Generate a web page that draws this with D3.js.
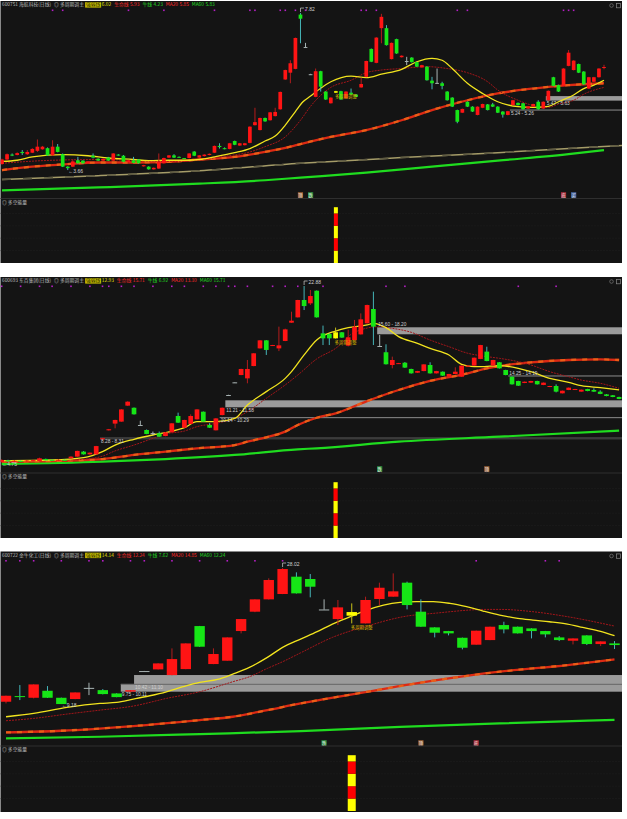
<!DOCTYPE html>
<html><head><meta charset="utf-8">
<script src="https://cdn.jsdelivr.net/npm/d3@7/dist/d3.min.js"></script>
<style>body{margin:0;background:#fff;}svg{display:block;}</style>
</head><body>
<script>
// ================= DATA =================
const headerNames = ['强弱线','生命线','牛线','MA20','MA60'];
const energyLevels = [0,20,40,60,80,90];

// ---- Panel 1 : 600751 ----
const p1Title = '600751 海航科技(日线)';
const p1HeaderVals = ['6.02','5.93','4.23','5.85','5.83'];
const p1Candles = [
[3.82,3.96,3.80,3.94],[3.94,4.10,3.92,4.08],[4.07,4.10,4.03,4.05],[4.06,4.13,4.05,4.11],[4.14,4.19,4.06,4.11],
[4.08,4.19,4.06,4.14],[4.12,4.24,4.11,4.22],[4.17,4.47,4.14,4.28],[4.21,4.30,4.20,4.28],[4.24,4.26,4.04,4.05],
[4.05,4.45,4.04,4.28],[4.28,4.35,4.13,4.14],[4.08,4.10,3.74,3.75],[3.75,3.76,3.66,3.71],[3.75,3.94,3.74,3.89],
[3.92,4.01,3.83,3.84],[3.91,3.92,3.83,3.84],[3.84,3.90,3.83,3.89],[4.04,4.10,3.97,3.99],[3.96,3.97,3.90,3.91],
[3.91,3.97,3.90,3.96],[3.99,4.01,3.90,3.91],[3.91,4.11,3.90,4.10],[4.07,4.08,4.04,4.05],[4.04,4.06,3.87,3.88],
[3.87,3.93,3.86,3.92],[3.92,4.01,3.84,3.85],[3.94,3.95,3.83,3.84],[3.76,3.80,3.75,3.79],[3.75,3.76,3.67,3.68],
[3.68,3.73,3.67,3.72],[3.70,4.10,3.69,3.88],[3.84,3.99,3.83,3.98],[3.99,4.06,3.98,4.05],[4.05,4.08,3.98,3.99],
[4.01,4.02,3.98,3.99],[3.98,3.98,3.95,3.96],[3.98,4.11,3.97,4.10],[4.15,4.16,4.03,4.04],[3.99,4.06,3.98,4.05],
[4.03,4.08,4.02,4.07],[4.06,4.10,4.05,4.09],[4.12,4.31,4.11,4.30],[4.30,4.37,4.23,4.27],[4.24,4.26,4.21,4.22],
[4.22,4.38,4.21,4.37],[4.43,4.44,4.32,4.33],[4.31,4.38,4.30,4.37],[4.32,4.38,4.31,4.37],[4.38,4.82,4.37,4.81],
[4.85,5.31,4.84,4.93],[4.72,5.05,4.71,5.04],[5.04,5.05,4.94,4.95],[4.98,5.20,4.97,5.19],[5.09,5.31,5.08,5.20],
[5.27,5.74,5.26,5.73],[6.06,6.32,6.05,6.31],[6.24,6.57,5.96,6.49],[6.34,7.17,6.33,7.16],[7.78,7.82,7.02,7.67],
[6.92,7.03,6.92,6.92],[6.20,6.21,6.19,6.20],[5.60,6.35,5.59,6.28],[6.28,6.29,5.74,5.87],[5.74,5.75,5.52,5.53],
[5.43,5.59,5.42,5.58],[5.71,5.76,5.70,5.75],[5.75,5.76,5.52,5.53],[5.56,5.75,5.55,5.74],[5.71,5.82,5.65,5.66],
[5.66,5.67,5.59,5.60],[5.85,6.11,5.84,5.94],[6.13,6.56,6.12,6.55],[6.87,6.88,6.52,6.53],[6.50,7.18,6.49,7.17],
[7.42,7.80,7.02,7.72],[7.42,7.50,6.96,6.97],[6.60,7.04,6.59,7.03],[7.13,7.14,6.74,6.75],[6.65,6.70,6.64,6.69],
[6.55,6.66,6.44,6.55],[6.64,6.65,6.51,6.52],[6.52,6.53,6.39,6.40],[6.38,6.45,6.37,6.44],[6.40,6.41,6.03,6.04],
[6.03,6.13,5.80,5.96],[5.97,6.35,5.96,5.97],[5.96,6.00,5.80,5.89],[5.74,5.75,5.50,5.51],[5.58,5.59,5.33,5.34],
[5.25,5.26,4.90,4.94],[5.18,5.29,5.17,5.28],[5.47,5.48,5.33,5.34],[5.34,5.35,5.20,5.21],[5.12,5.35,5.11,5.34],
[5.31,5.42,5.30,5.41],[5.40,5.41,5.24,5.25],[5.40,5.44,5.33,5.34],[5.34,5.35,5.17,5.18],[5.21,5.22,5.05,5.13],
[5.12,5.23,5.11,5.22],[5.38,5.52,5.37,5.51],[5.44,5.45,5.37,5.38],[5.43,5.44,5.26,5.27],[5.29,5.36,5.28,5.35],
[5.34,5.42,5.33,5.41],[5.47,5.51,5.26,5.27],[5.29,5.48,5.28,5.47],[5.51,5.77,5.50,5.76],[6.12,6.13,5.88,5.89],
[5.91,5.92,5.73,5.74],[5.89,6.36,5.88,6.35],[6.42,6.84,6.41,6.77],[6.31,6.57,6.30,6.56],[6.47,6.48,6.23,6.24],
[6.27,6.28,5.92,5.93],[5.82,6.13,5.81,6.12],[6.00,6.13,5.99,6.12],[6.12,6.36,6.11,6.35],[6.37,6.45,6.33,6.39]
];
const p1SignalBar = 66;
const p1Strong = [[0,3.89],[3,3.92],[6,4.01],[12,4.07],[17,4.04],[21,3.98],[26,3.94],[29,3.91],[33,3.92],[37,3.92],[39,3.94],[42,4.01],[46,4.12],[49,4.23],[52,4.43],[54,4.56],[56,4.85],[58,5.21],[59.5,5.47],[61,5.62],[63,5.83],[65,6.00],[69,6.15],[72,6.11],[75,6.20],[79,6.33],[82,6.53],[85,6.62],[87,6.57],[89,6.35],[92,5.96],[95,5.69],[98,5.47],[102,5.34],[105,5.32],[108,5.35],[110,5.47],[113,5.65],[115,5.82],[117,5.91],[119,6.04]];
const p1MA20 = [[0,3.84],[10,3.92],[20,3.94],[30,3.89],[38,3.91],[43,4.01],[49,4.14],[52,4.28],[56,4.54],[59,4.98],[61,5.35],[65,5.85],[69,6.04],[72,6.24],[75,6.31],[79,6.35],[84,6.40],[88,6.35],[92,6.24],[96,6.00],[98,5.78],[102,5.51],[105,5.37],[108,5.32],[110,5.41],[113,5.51],[115,5.67],[119,5.85]];
const p1Life = [[0,3.66],[6,3.75],[13,3.82],[19,3.86],[26,3.86],[33,3.88],[39,3.94],[46,4.01],[52,4.14],[57,4.28],[59,4.35],[65,4.54],[72,4.72],[79,4.98],[85,5.25],[92,5.51],[98,5.69],[105,5.82],[112,5.91],[119,5.96]];
const p1Trend = [[0,3.41],[19,3.51],[39,3.64],[59,3.84],[79,3.99],[98,4.12],[118,4.28],[122.6,4.31]];
const p1Bull = [[0,3.12],[19,3.20],[39,3.30],[52,3.39],[59,3.46],[72,3.59],[85,3.75],[98,3.91],[112,4.08],[119,4.19]];
const p1Zones = [
  {from:107.5, lo:5.50, hi:5.62, kind:'band', label:'5.47 - 5.63', at:'below'},
  {from:100.4, lo:5.25, hi:5.25, kind:'line', label:'5.24 - 5.26', at:'below'}
];
const p1High = {i:59, text:'7.82'};
const p1Low = {i:13, text:'3.66'};
const p1Dots = [10,12,25,32,42,49,50,55,56,58,60,71,72,74,90,92,111,112,113];
const p1Icons = [[59,'顶'],[61,'跌'],[111,'底'],[113,'买']];

// ---- Panel 2 : 600693 ----
const p2Title = '600693 东百集团(日线)';
const p2HeaderVals = ['12.93','15.71','6.92','13.10','15.71'];
const p2Candles = [
[6.05,6.30,5.98,6.23],[6.20,6.25,6.05,6.10],[6.10,6.20,6.05,6.15],[6.15,6.18,6.05,6.10],[6.10,6.22,6.07,6.18],
[6.15,6.26,6.12,6.22],[6.13,6.45,6.10,6.39],[6.33,6.36,6.18,6.20],[6.25,6.28,6.15,6.18],[6.18,6.30,6.15,6.25],
[6.25,6.28,6.15,6.20],[6.39,6.60,6.36,6.55],[6.55,7.12,6.53,7.10],[7.03,7.08,6.75,6.77],[6.77,6.95,6.75,6.93],
[6.77,7.58,6.75,7.56],[8.20,8.35,8.15,8.31],[9.07,9.20,9.05,9.17],[9.71,10.08,9.26,10.06],[9.90,11.10,9.88,11.07],
[11.43,11.85,11.40,11.81],[11.23,11.25,10.58,10.60],[9.58,9.99,9.58,9.58],[9.10,9.15,8.70,8.72],[8.80,8.95,8.62,8.80],
[8.78,8.95,8.44,8.46],[8.52,8.90,8.50,8.88],[8.88,9.76,8.86,9.74],[10.44,10.76,9.78,9.80],[9.32,10.08,9.30,10.06],
[9.68,10.60,9.66,10.44],[10.12,11.10,10.10,11.07],[10.85,10.87,9.88,9.90],[9.58,9.75,9.30,9.32],[9.07,10.25,9.05,10.21],
[10.53,11.25,10.50,11.23],[12.45,12.47,12.43,12.45],[13.66,13.68,13.64,13.66],[14.36,14.96,14.34,14.94],[14.04,15.80,13.57,14.94],
[15.22,16.46,15.20,16.44],[16.91,17.70,16.89,17.68],[17.68,17.70,16.28,16.76],[17.17,17.25,17.15,17.23],[16.91,18.99,16.65,17.20],
[17.62,18.80,17.60,18.73],[19.37,20.42,19.35,19.56],[19.88,21.56,19.86,21.54],[21.54,22.88,20.58,20.96],[21.22,22.50,21.06,21.92],
[22.43,22.45,19.86,19.88],[18.35,19.09,17.23,17.87],[18.29,18.35,17.23,17.87],[17.87,18.90,17.85,18.45],[18.45,18.47,17.92,17.94],
[17.17,18.70,17.10,17.97],[17.71,19.63,17.69,18.99],[18.25,20.26,18.23,19.69],[19.31,21.10,19.29,21.06],[20.68,22.34,17.23,18.99],
[17.14,18.19,17.14,17.14],[16.54,17.30,15.37,15.39],[15.32,16.12,15.00,15.80],[15.44,15.52,15.42,15.50],[15.54,15.60,15.05,15.07],
[14.94,14.96,14.50,14.52],[14.58,14.76,14.56,14.74],[14.74,15.40,14.72,15.38],[15.32,15.58,14.50,14.52],[14.52,14.76,14.50,14.74],
[14.68,14.70,14.28,14.30],[14.20,14.48,14.18,14.46],[14.46,15.10,14.44,14.68],[14.20,15.28,14.18,15.26],[15.16,15.30,15.14,15.26],
[15.26,16.04,15.24,16.02],[15.90,17.25,15.88,17.23],[16.60,17.07,15.68,15.70],[15.26,15.82,15.24,15.80],[15.58,15.60,14.98,15.00],
[14.84,14.86,14.34,14.36],[14.20,14.22,13.45,13.47],[13.79,13.81,13.32,13.34],[13.60,13.74,13.58,13.72],[13.63,13.81,13.61,13.79],
[13.79,13.81,13.45,13.47],[13.41,13.65,13.39,13.63],[13.22,13.33,13.20,13.31],[13.31,13.47,12.70,12.77],[12.61,12.88,12.59,12.86],
[12.93,13.17,12.91,13.15],[12.96,13.04,12.94,13.02],[12.77,12.98,12.75,12.96],[13.02,13.04,12.81,12.83],[12.93,13.09,12.75,12.77],
[12.77,12.90,12.53,12.55],[12.51,12.53,12.33,12.35],[12.42,12.44,12.24,12.26],[12.26,12.28,12.05,12.07]
];
const p2SignalBar = 53;
const p2Strong = [[0,6.16],[8,6.23],[13,6.45],[16,7.03],[18,7.66],[21,8.21],[24,8.62],[26,8.85],[29,9.32],[31,9.90],[34,9.90],[37,10.21],[39,11.49],[42,12.77],[45,14.04],[46,14.68],[48,16.28],[50,17.71],[53,18.57],[55,18.89],[58,19.15],[59,19.31],[61,18.89],[63,18.03],[66,17.39],[68,16.91],[71,16.28],[73,15.38],[75,15.16],[76,15.16],[79,15.26],[82,15.00],[84,14.68],[87,14.04],[90,13.66],[92,13.34],[95,13.15],[98,12.93]];
const p2MA20 = [[0,6.13],[8,6.20],[13,6.30],[16,6.60],[18,7.10],[21,7.66],[24,8.30],[26,8.72],[29,9.00],[31,9.42],[34,9.74],[37,10.21],[39,10.85],[42,12.13],[45,13.41],[47,14.36],[50,15.90],[53,16.91],[56,18.45],[60,18.99],[62,18.83],[65,18.45],[68,17.71],[71,17.07],[74,16.44],[76,16.21],[79,15.96],[82,15.64],[84,15.32],[87,14.68],[90,14.20],[92,13.88],[95,13.57],[98,13.09]];
const p2Life = [[0,6.07],[8,6.13],[16,6.32],[21,6.71],[26,7.03],[31,7.35],[37,7.66],[39,7.98],[42,8.40],[45,8.94],[47,9.58],[50,10.27],[53,10.69],[58,11.87],[63,12.93],[68,13.79],[74,14.52],[77,15.00],[79,15.22],[84,15.57],[90,15.80],[95,15.86],[98,15.80]];
const p2Bull = [[0,5.84],[16,6.07],[26,6.32],[37,6.71],[47,7.25],[50,7.35],[63,7.98],[79,8.46],[98,9.04]];
const p2Zones = [
  {from:59.6, lo:18.26, hi:18.93, kind:'band', label:'15.60 - 18.20', at:'above'},
  {from:80.4, lo:14.27, hi:14.27, kind:'line', label:'14.25 - 14.19', at:'above'},
  {from:35.5, lo:11.27, hi:11.94, kind:'band', label:'11.21 - 11.58', at:'below'},
  {from:34.6, lo:10.28, hi:10.28, kind:'line', label:'10.14 - 10.29', at:'below'},
  {from:15.6, lo:8.31, hi:8.31, kind:'dark', label:'8.28 - 8.31', at:'below'}
];
const p2High = {i:48, text:'22.88'};
const p2Low = {i:0, text:'4.75'};
const p2Dots = [0,3,6,8,11,14,16,17,19,21,24,27,29,32,34,36,37,39,43,45,47,51,61,64,82,88];
const p2Icons = [[60,'跌'],[77,'顶']];

// ---- Panel 3 : 600722 ----
const p3Title = '600722 金牛化工(日线)';
const p3HeaderVals = ['14.14','12.24','7.62','14.85','12.24'];
const p3Candles = [
[9.50,10.35,9.27,10.33],[10.28,11.81,9.73,10.19],[10.05,11.92,9.96,11.90],[11.02,11.67,10.03,10.05],[10.05,10.07,9.18,9.18],
[9.87,10.81,9.85,10.79],[11.42,12.13,10.42,11.42],[11.11,11.25,10.52,10.56],[10.65,10.67,10.12,10.14],[10.90,11.12,10.88,11.10],
[13.75,13.77,13.73,13.75],[13.98,14.83,13.96,14.81],[13.19,16.89,13.17,15.41],[14.02,17.60,14.00,17.58],[19.98,20.00,17.10,17.12],
[14.72,16.89,14.70,16.11],[15.18,18.43,15.16,18.41],[19.29,20.97,18.97,20.95],[21.97,23.70,21.90,23.68],[23.68,26.59,23.66,26.36],
[24.42,28.02,24.40,27.88],[26.82,27.42,24.49,24.51],[26.50,27.19,23.96,25.43],[22.28,23.68,22.25,22.28],[20.95,23.59,20.12,22.57],
[21.42,23.12,20.35,21.92],[20.35,24.05,20.33,23.59],[23.73,25.99,22.89,25.29],[24.05,27.28,24.03,24.79],[25.99,26.13,22.29,22.89],
[21.97,23.68,19.87,19.89],[19.80,19.82,18.41,19.06],[19.29,19.31,18.69,18.97],[18.36,18.38,16.75,16.98],[17.40,19.36,17.38,19.34],
[18.04,19.91,18.02,19.89],[20.12,20.58,18.97,19.52],[19.89,19.91,18.95,18.97],[19.66,19.68,18.27,19.29],[19.29,19.31,18.41,18.83],
[18.41,18.59,17.90,18.04],[17.95,18.29,17.44,18.27],[18.69,18.71,17.35,17.49],[17.49,17.88,17.21,17.86],[17.58,17.90,16.80,17.35]
];
const p3SignalBar = 25;
const p3Strong = [[0,7.42],[2,7.88],[4.4,8.71],[6.8,9.27],[8,9.41],[9.2,9.87],[10.4,10.33],[11.6,10.88],[12.8,11.58],[14,12.18],[15.3,12.59],[16.4,13.33],[17.6,14.25],[18.9,15.64],[20,17.03],[21.3,18.18],[22.5,19.20],[23.6,20.26],[24.9,21.28],[26.1,22.20],[27.3,22.89],[28.5,23.26],[29.7,23.36],[30.9,23.36],[32.1,23.12],[33.3,22.66],[34.5,22.06],[35.7,21.51],[37,21.05],[38.1,20.81],[39.3,20.58],[40.6,20.26],[41.7,19.80],[43,19.24],[44,18.64]];
const p3MA20 = [[0,6.87],[2,7.19],[4.4,7.79],[6.8,8.34],[9.2,8.90],[11.6,9.96],[14,10.88],[16.4,12.27],[17.6,12.96],[18.9,14.12],[20,15.04],[21.3,16.27],[23.6,18.41],[26.1,19.98],[29,21.37],[30.9,21.74],[34.8,22.29],[35.7,22.29],[38.1,21.97],[40.6,21.28],[44,19.98]];
const p3Life = [[0,5.25],[4,5.48],[9.2,6.13],[14,6.96],[16.4,7.42],[18.9,8.34],[21.3,9.27],[22.9,9.82],[26.1,10.88],[30.9,12.41],[35.7,13.66],[40.6,14.58],[44,15.37]];
const p3Bull = [[0,4.42],[6.8,4.65],[14,5.02],[21.3,5.43],[28.5,6.03],[35.7,6.50],[44,7.00]];
const p3Zones = [
  {from:9.26, lo:11.91, hi:13.20, kind:'band', label:'10.42 - 11.10', at:'below'},
  {from:8.3, lo:10.89, hi:11.91, kind:'band', label:'9.75 - 10.11', at:'below'}
];
const p3High = {i:20, text:'28.02'};
const p3Low = {i:4, text:'9.18'};
const p3Dots = [0,1,2,4,6,7,9,10,12,14,16,18,20,34,39,40];
const p3Icons = [[23,'跌'],[30,'顶'],[34,'底']];

// ================= LAYOUT / STYLE =================
const W = 627, H = 819;
const FONT = '"Noto Sans CJK SC","Noto Sans",sans-serif';
const NUMFONT = '"Liberation Sans",Arial,sans-serif';
const C = {bg:'#141414', up:'#ff1414', down:'#16e616', upW:'#b31c1c', downW:'#45b5b8', doji:'#a9b4b4',
  sig:'#ffff00', strong:'#f2e41e', ma20:'#a3161a', life:'#dc2a14', life2:'#ef6a18', trend:'#a59c68', bull:'#1fdc1f',
  band:'#9b9b9b', line:'#8c8c8c', dark:'#3b3b3b', text:'#cfcfcf'};
const headerColors = ['#e8e000','#ff2a2a','#22dd22','#ff2a2a','#22dd22'];
const iconColors = {'顶':'#a8683a','跌':'#2f9a44','底':'#b8303e','买':'#4d6fb0'};

const layouts = [
 {id:1, title:p1Title, vals:p1HeaderVals, candles:p1Candles, sigBar:p1SignalBar, strong:p1Strong, ma20:p1MA20, life:p1Life, trend:p1Trend, bull:p1Bull,
  zones:p1Zones, high:p1High, low:p1Low, dots:p1Dots, icons:p1Icons,
  top:1, sep:198.5, bottom:263, mainTop:4, mainBottom:198, yDomain:[2.92,8.06], xRange:[2,604], body:3.7, subRange:[263,201], eW:4},
 {id:2, title:p2Title, vals:p2HeaderVals, candles:p2Candles, sigBar:p2SignalBar, strong:p2Strong, ma20:p2MA20, life:p2Life, trend:null, bull:p2Bull,
  zones:p2Zones, high:p2High, low:p2Low, dots:p2Dots, icons:p2Icons,
  top:277, sep:473, bottom:538, mainTop:279, mainBottom:472, yDomain:[5.08,23.55], xRange:[1.7,619.1], body:4.7, subRange:[538,476], eW:4.2},
 {id:3, title:p3Title, vals:p3HeaderVals, candles:p3Candles, sigBar:p3SignalBar, strong:p3Strong, ma20:p3MA20, life:p3Life, trend:null, bull:p3Bull,
  zones:p3Zones, high:p3High, low:p3Low, dots:p3Dots, icons:p3Icons,
  top:551.5, sep:746, bottom:812, mainTop:553, mainBottom:746, yDomain:[3.37,30.10], xRange:[6,614.5], body:10.4, subRange:[811,749], eW:8}
];
const LEFT = 0.5, RIGHT = 622;

const svg = d3.select('body').append('svg').attr('width',W).attr('height',H);
svg.append('rect').attr('width',W).attr('height',H).attr('fill','#ffffff');
const defs = svg.append('defs');

function drawPanel(P){
  const g = svg.append('g');
  g.append('rect').attr('x',LEFT).attr('y',P.top).attr('width',RIGHT-LEFT).attr('height',P.bottom-P.top).attr('fill',C.bg);
  g.append('line').attr('x1',LEFT).attr('x2',RIGHT).attr('y1',P.sep).attr('y2',P.sep).attr('stroke','#2f2f2f').attr('stroke-width',1.2);

  const n = P.candles.length;
  const x = d3.scaleLinear().domain([0,n-1]).range(P.xRange);
  const y = d3.scaleLinear().domain(P.yDomain).range([P.mainBottom,P.mainTop]);
  const clip = 'clip'+P.id;
  defs.append('clipPath').attr('id',clip).append('rect').attr('x',LEFT).attr('y',P.top).attr('width',RIGHT-LEFT).attr('height',P.sep-P.top-0.5);
  const m = g.append('g').attr('clip-path','url(#'+clip+')');

  // zones
  P.zones.forEach(z=>{
    const x0 = x(z.from);
    if(z.kind==='band'){
      m.append('rect').attr('x',x0).attr('y',y(z.hi)).attr('width',RIGHT-x0).attr('height',y(z.lo)-y(z.hi)).attr('fill',C.band);
    } else if(z.kind==='line'){
      m.append('line').attr('x1',x0).attr('x2',RIGHT).attr('y1',y(z.lo)).attr('y2',y(z.lo)).attr('stroke',C.line).attr('stroke-width',1);
    } else {
      m.append('rect').attr('x',x0).attr('y',y(z.lo)-1.2).attr('width',RIGHT-x0).attr('height',2.4).attr('fill',C.dark);
    }
  });
  if(P.id===3){ // divider between stacked bands
    const z=P.zones[1];
    m.append('line').attr('x1',x(z.from)).attr('x2',RIGHT).attr('y1',y(z.hi)).attr('y2',y(z.hi)).attr('stroke','#6f6f6f').attr('stroke-width',1.4);
  }

  const line = d3.line().x(d=>x(d[0])).y(d=>y(d[1])).curve(d3.curveMonotoneX);
  m.append('path').datum(P.bull).attr('d',line).attr('fill','none').attr('stroke',C.bull).attr('stroke-width',2.2);
  if(P.trend){
    m.append('path').datum(P.trend).attr('d',line).attr('fill','none').attr('stroke',C.trend).attr('stroke-width',1.5);
    m.append('path').datum(P.trend).attr('d',line).attr('fill','none').attr('stroke','#5e5a42').attr('stroke-width',1.5).attr('stroke-dasharray','9,12');
  }
  m.append('path').datum(P.life).attr('d',line).attr('fill','none').attr('stroke',C.life).attr('stroke-width',2.3);
  m.append('path').datum(P.life).attr('d',line).attr('fill','none').attr('stroke',C.life2).attr('stroke-width',2.3).attr('stroke-dasharray','5,6').attr('opacity',0.8);
  m.append('path').datum(P.ma20).attr('d',line).attr('fill','none').attr('stroke',C.ma20).attr('stroke-width',1).attr('stroke-dasharray','2,1');
  m.append('path').datum(P.strong).attr('d',line).attr('fill','none').attr('stroke',C.strong).attr('stroke-width',1.3);

  // candles
  const col = (d,i)=> i===P.sigBar ? C.sig : (d[3]>d[0] ? C.up : (d[3]<d[0] ? C.down : C.doji));
  const wcol = (d,i)=> i===P.sigBar ? '#c9c21a' : (d[3]>d[0] ? C.upW : (d[3]<d[0] ? C.downW : C.doji));
  const cg = m.append('g').selectAll('g').data(P.candles).join('g');
  cg.append('line').attr('x1',(d,i)=>x(i)).attr('x2',(d,i)=>x(i)).attr('y1',d=>y(d[1])).attr('y2',d=>y(d[2]))
    .attr('stroke',wcol).attr('stroke-width',1);
  cg.append('rect').attr('x',(d,i)=>x(i)-P.body/2).attr('width',P.body)
    .attr('y',d=>y(Math.max(d[0],d[3]))).attr('height',d=>Math.max(1,Math.abs(y(d[0])-y(d[3]))))
    .attr('fill',col);

  // zone labels
  P.zones.forEach(z=>{
    const ty = z.at==='below' ? y(z.lo)+4.6 : y(z.hi)-1.2;
    m.append('text').attr('x',x(z.from)+1).attr('y',ty).attr('fill',C.text).attr('font-size',4.8).attr('font-family',NUMFONT).text(z.label);
  });

  // high / low markers
  const hx = x(P.high.i), hy = y(P.candles[P.high.i][1]);
  m.append('path').attr('d',`M${hx},${hy-1}V${hy-5}H${hx+3.5}`).attr('fill','none').attr('stroke','#bdbdbd').attr('stroke-width',0.8);
  m.append('text').attr('x',hx+4.5).attr('y',hy-3).attr('dominant-baseline','middle').attr('fill',C.text).attr('font-size',5).attr('font-family',NUMFONT).text(P.high.text);
  const lx = x(P.low.i), ly = y(P.candles[P.low.i][2]);
  m.append('text').attr('x',lx+0.5).attr('y',ly+1.8).attr('dominant-baseline','middle').attr('fill',C.text).attr('font-size',5).attr('font-family',NUMFONT).text('←'+P.low.text);

  // signal label under the yellow bar
  const sx = x(P.sigBar), sy = y(P.candles[P.sigBar][2]);
  m.append('text').attr('x',sx-1).attr('y',sy+4).attr('dominant-baseline','middle').attr('fill','#d8b400').attr('font-size',4.4).attr('font-family',FONT).text('多周期调整');

  // top dots
  m.selectAll('rect.dot').data(P.dots).join('rect').attr('class','dot').attr('x',d=>x(d)-0.8).attr('y',P.top+8.5).attr('width',1.6).attr('height',1.6).attr('fill','#b41fc4');

  // bottom icons
  const ig = m.selectAll('g.icon').data(P.icons).join('g').attr('class','icon');
  ig.append('rect').attr('x',d=>x(d[0])-2.6).attr('y',P.mainBottom-5.8).attr('width',5.2).attr('height',5.6).attr('fill',d=>iconColors[d[1]]).attr('opacity',0.9);
  ig.append('text').attr('x',d=>x(d[0])).attr('y',P.mainBottom-1.3).attr('text-anchor','middle').attr('fill','#f0f0f0').attr('font-size',4.2).attr('font-family',FONT).text(d=>d[1]);

  // header
  let cx = 2; const hyT = P.top+5.3;
  function seg(t, fill, gap){
    const el = g.append('text').attr('x',cx).attr('y',hyT).attr('fill',fill).attr('font-size',4.8).attr('font-family',FONT).text(t);
    const w = el.node().getComputedTextLength(); cx += w + gap; return {el,w};
  }
  seg(P.title,'#bdbdbd',3);
  seg('◎ 多周期调主','#bdbdbd',2);
  const bx = cx;
  const s1 = seg(headerNames[0],'#2a2a00',1.5);
  g.insert('rect', () => s1.el.node()).attr('x',bx-0.8).attr('y',P.top+1.2).attr('width',s1.w+1.6).attr('height',5.4).attr('fill','#c9c000');
  seg(P.vals[0],headerColors[0],3);
  for(let k=1;k<5;k++){ seg(headerNames[k],headerColors[k],1.5); seg(P.vals[k],headerColors[k],3); }
  // right top icons
  g.append('circle').attr('cx',611.5).attr('cy',P.top+4.5).attr('r',1.8).attr('fill','none').attr('stroke','#777').attr('stroke-width',0.7);
  g.append('rect').attr('x',616.5).attr('y',P.top+2.4).attr('width',4).attr('height',4.4).attr('fill','none').attr('stroke','#888').attr('stroke-width',0.7);

  // sub panel
  const ys = d3.scaleLinear().domain([0,100]).range(P.subRange);
  [20,40,60,80].forEach(v=>{
    g.append('line').attr('x1',LEFT).attr('x2',RIGHT).attr('y1',ys(v)).attr('y2',ys(v)).attr('stroke','#2a2a2a').attr('stroke-width',0.6).attr('stroke-dasharray','1,2');
  });
  g.append('text').attr('x',2).attr('y',P.sep+5.2).attr('fill','#bdbdbd').attr('font-size',4.8).attr('font-family',FONT).text('◎ 多空能量');
  const segs = d3.pairs(energyLevels);
  g.selectAll('rect.en').data(segs).join('rect').attr('class','en')
    .attr('x',x(P.sigBar)-P.eW/2).attr('width',P.eW)
    .attr('y',d=>ys(d[1])).attr('height',d=>ys(d[0])-ys(d[1]))
    .attr('fill',(d,i)=> i%2===0 ? '#ffff00' : '#ff0000');
}
layouts.forEach(drawPanel);
</script>
</body></html>
